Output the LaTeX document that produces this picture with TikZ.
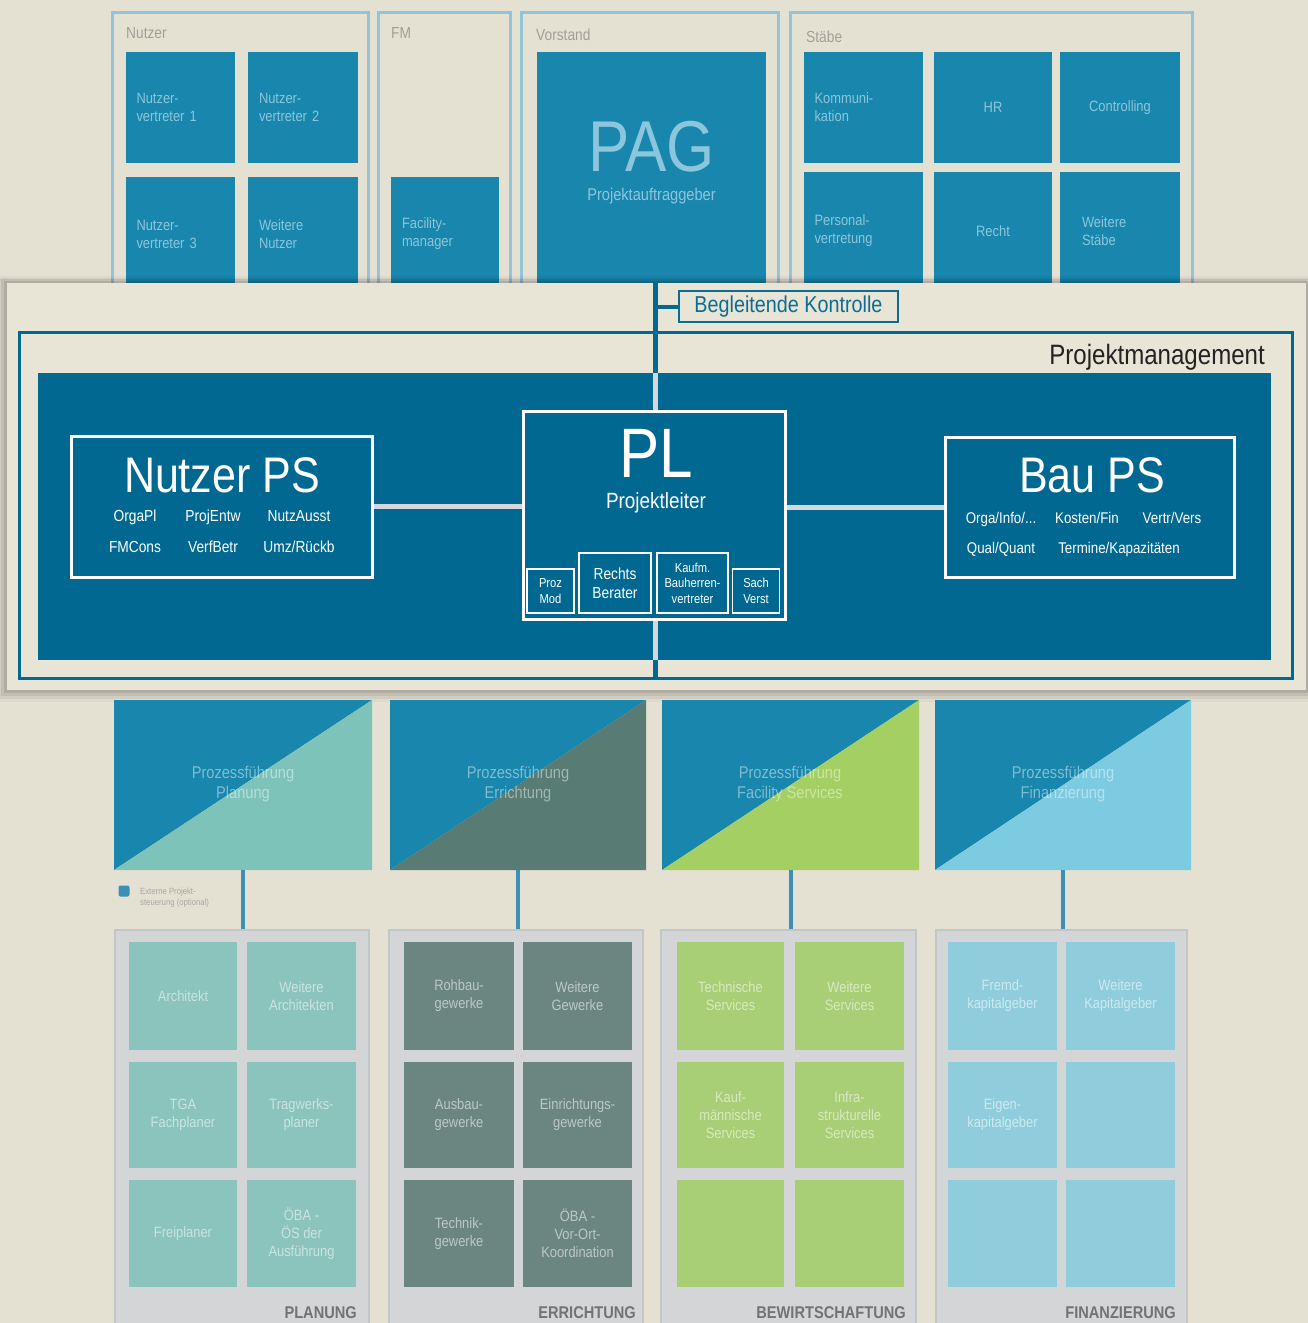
\documentclass[tikz,border=0pt]{standalone}
\usepackage{fontspec}
\setmainfont{Liberation Sans}[FakeStretch=0.86]
\usetikzlibrary{calc}
\definecolor{bg}{HTML}{E5E1D2}
\definecolor{bandbg}{HTML}{E9E5D6}
\definecolor{topblue}{HTML}{1886AD}
\definecolor{topfaint}{HTML}{8CC6DC}
\definecolor{frameblue}{HTML}{94C2D6}
\definecolor{darkblue}{HTML}{006891}
\definecolor{ctrlblue}{HTML}{0C6C93}
\definecolor{gline}{HTML}{D5D7DF}
\definecolor{hdrgray}{HTML}{A19F98}
\definecolor{pmtext}{HTML}{222222}
\definecolor{tealc}{HTML}{7DC3BA}
\definecolor{slatec}{HTML}{587B74}
\definecolor{greenc}{HTML}{A3CF63}
\definecolor{skyc}{HTML}{7DCBE0}
\definecolor{planc}{HTML}{8AC4BC}
\definecolor{errc}{HTML}{6B8680}
\definecolor{bewc}{HTML}{A8CF76}
\definecolor{finc}{HTML}{8FCDDD}
\definecolor{grpfill}{HTML}{D3D5D6}
\definecolor{grpdraw}{HTML}{C3C6C7}
\definecolor{conblue}{HTML}{3C90B6}
\newcommand\setfs[1]{\pgfmathsetmacro\mybls{#1*1.2}\fontsize{#1}{\mybls}\selectfont}
\begin{document}
\begin{tikzpicture}[x=1pt,y=-1pt,
  fs/.style={font=\setfs{#1}},
  tbox/.style={fill=topblue, inner sep=0pt, text=topfaint, fs=15, align=left},
  grpframe/.style={draw=frameblue, line width=3pt},
  hdr/.style={anchor=west, text=hdrgray, fs=16, inner sep=0pt},
  wbox/.style={draw=white, line width=3pt, inner sep=0pt},
  sbox/.style={draw=white, line width=1.6pt, inner sep=0pt, text=white, align=center},
  wtxt/.style={text=white, inner sep=0pt, anchor=base},
  dbline/.style={draw=darkblue, line width=5pt},
  glin/.style={draw=gline, line width=5pt},
  lbox/.style={inner sep=0pt, text=white!55!#1, fill=#1, align=center, fs=15},
  lgrp/.style={fill=grpfill, draw=grpdraw, line width=2pt, inner sep=0pt},
  lbl/.style={anchor=base east, text=black!55, inner sep=0pt, font=\bfseries\setfs{17}},
  sqtxt/.style={text=white, text opacity=0.45, fs=17, align=center, inner sep=0pt}
]
\useasboundingbox (0,0) rectangle (1308,1323);
\fill[bg] (0,0) rectangle (1308,1323);

% ---------- top groups ----------
\draw[grpframe] (112,12) rectangle (368,292);
\draw[grpframe] (378,12) rectangle (510,292);
\draw[grpframe] (521,12) rectangle (778,292);
\draw[grpframe] (790,12) rectangle (1192,292);
\node[hdr] (hNutzer) at (126,33) {Nutzer};
\node[hdr] (hFM) at (391,33) {FM};
\node[hdr] (hVor) at (536,35) {Vorstand};
\node[hdr] (hStab) at (806,37) {Stäbe};

\node[tbox, minimum width=109, minimum height=111, text width=88] (nv1) at (180.5,107.5) {Nutzer-\\vertreter 1};
\node[tbox, minimum width=110, minimum height=111, text width=88] (nv2) at (303,107.5) {Nutzer-\\vertreter 2};
\node[tbox, minimum width=109, minimum height=114, text width=88] (nv3) at (180.5,234) {Nutzer-\\vertreter 3};
\node[tbox, minimum width=110, minimum height=114, text width=88] (wn) at (303,234) {Weitere\\Nutzer};
\node[tbox, minimum width=108, minimum height=114, text width=86] (fac) at (445,234) {Facility-\\manager};
\node[tbox, minimum width=229, minimum height=240, align=center] (pag) at (651.5,172) {};
\node[text=topfaint, fs=72, inner sep=0pt, anchor=base] (pagt) at (651.5,171) {PAG};
\node[text=topfaint, fs=17, inner sep=0pt, anchor=base] (pags) at (651.5,200) {Projektauftraggeber};
\node[tbox, minimum width=119, minimum height=111, text width=98] (kom) at (863.5,107.5) {Kommuni-\\kation};
\node[tbox, minimum width=118, minimum height=111, align=center] (hr) at (993,107.5) {HR};
\node[tbox, minimum width=120, minimum height=111, align=center] (ctrl) at (1120,107.5) {Controlling};
\node[tbox, minimum width=119, minimum height=118, text width=98] (pers) at (863.5,231) {Personal-\\vertretung};
\node[tbox, minimum width=118, minimum height=118, align=center] (recht) at (993,231) {Recht};
\node[tbox, minimum width=120, minimum height=118, text width=76] (wst) at (1120,231) {Weitere\\Stäbe};

% ---------- band with shadow ----------
\foreach \d/\o in {12/0.03,9/0.05,6/0.07,3/0.09}
  \fill[black, opacity=\o] (7-\d,283-\d*0.6) rectangle (1306+\d,690+\d);
\fill[bandbg] (7,283) rectangle (1306,690);

\coordinate (ctop) at (655,283);
\coordinate (cbot) at (655,678);
\node[draw=ctrlblue, line width=2pt, minimum width=219, minimum height=31, inner sep=0pt,
      text=ctrlblue, fs=23] (bk) at (788.5,306.5) {Begleitende Kontrolle};
\draw[darkblue, line width=3pt] (19,332) rectangle (1292,678);
\node[anchor=base east, text=pmtext, fs=28, inner sep=0pt] (pmt) at (1265,364) {Projektmanagement};
\node[fill=darkblue, minimum width=1233, minimum height=287, inner sep=0pt] (inner) at (654.5,516.5) {};

\node[wbox, minimum width=301, minimum height=141] (nps) at (221.5,506.5) {};
\node[wbox, minimum width=262, minimum height=208] (pl) at (654,515) {};
\node[wbox, minimum width=289, minimum height=140] (bps) at (1089.5,507) {};

% connectors
\draw[dbline] (ctop) -- (inner.north -| ctop);
\draw[glin] (inner.north -| ctop) -- (pl.north -| ctop);
\draw[glin] (pl.south -| ctop) -- (inner.south -| ctop);
\draw[dbline] (inner.south -| ctop) -- (cbot);
\draw[darkblue, line width=4pt] (bk.west -| ctop) -- (bk.west);
\draw[glin] (nps.east) -- (nps.east -| pl.west);
\draw[glin] (pl.east |- bps.west) -- (bps.west);

% Nutzer PS
\node[wtxt, fs=50] (npst) at (222,492) {Nutzer PS};
\node[wtxt, fs=16] (n1) at (135,521) {OrgaPl};
\node[wtxt, fs=16] (n2) at (213,521) {ProjEntw};
\node[wtxt, fs=16] (n3) at (299,521) {NutzAusst};
\node[wtxt, fs=16] (n4) at (135,552) {FMCons};
\node[wtxt, fs=16] (n5) at (213,552) {VerfBetr};
\node[wtxt, fs=16] (n6) at (299,552) {Umz/Rückb};

% PL
\node[wtxt, fs=70] (plt) at (656,477) {PL};
\node[wtxt, fs=22] (pls) at (656,508) {Projektleiter};
\node[sbox, minimum width=47, minimum height=44, fs=13] (proz) at (550.5,591) {Proz\\Mod};
\node[sbox, minimum width=72, minimum height=60, fs=16] (rb) at (615,583) {Rechts\\Berater};
\node[sbox, minimum width=71, minimum height=60, fs=13] (kbv) at (692.5,583) {Kaufm.\\Bauherren-\\vertreter};
\node[sbox, minimum width=47, minimum height=44, fs=13] (sv) at (756,591) {Sach\\Verst};

% Bau PS
\node[wtxt, fs=50] (bpst) at (1092,492) {Bau PS};
\node[wtxt, fs=15.5] (b1) at (1001,523) {Orga/Info/...};
\node[wtxt, fs=15.5] (b2) at (1087,523) {Kosten/Fin};
\node[wtxt, fs=15.5] (b3) at (1172,523) {Vertr/Vers};
\node[wtxt, fs=15.5] (b4) at (1001,553) {Qual/Quant};
\node[wtxt, fs=15.5] (b5) at (1119,553) {Termine/Kapazitäten};

% ---------- bottom: process squares ----------
\fill[topblue] (114,700) -- (372,700) -- (114,870) -- cycle;
\fill[tealc] (372,700) -- (372,870) -- (114,870) -- cycle;
\node[minimum width=258, minimum height=170, inner sep=0pt] (sq1) at (243,785) {};
\node[sqtxt] (sq1t) at (243,784) {Prozessführung\\Planung};

\fill[topblue] (390,700) -- (646,700) -- (390,870) -- cycle;
\fill[slatec] (646,700) -- (646,870) -- (390,870) -- cycle;
\node[minimum width=256, minimum height=170, inner sep=0pt] (sq2) at (518,785) {};
\node[sqtxt] (sq2t) at (518,784) {Prozessführung\\Errichtung};

\fill[topblue] (662,700) -- (919,700) -- (662,870) -- cycle;
\fill[greenc] (919,700) -- (919,870) -- (662,870) -- cycle;
\node[minimum width=257, minimum height=170, inner sep=0pt] (sq3) at (790.5,785) {};
\node[sqtxt] (sq3t) at (790,784) {Prozessführung\\Facility Services};

\fill[topblue] (935,700) -- (1191,700) -- (935,870) -- cycle;
\fill[skyc] (1191,700) -- (1191,870) -- (935,870) -- cycle;
\node[minimum width=256, minimum height=170, inner sep=0pt] (sq4) at (1063,785) {};
\node[sqtxt] (sq4t) at (1063,784) {Prozessführung\\Finanzierung};

% legend
\node[fill=conblue, rounded corners=2pt, minimum size=11, inner sep=0pt] (lgsq) at (124,891) {};
\node[anchor=west, text=black!35, fs=9, align=left, inner sep=0pt] (lgt) at (140,898) {Externe Projekt-\\steuerung (optional)};

% ---------- bottom: groups ----------
\node[lgrp, minimum width=254, minimum height=410, anchor=north] (g1) at (242,929) {};
\node[lgrp, minimum width=254, minimum height=410, anchor=north] (g2) at (516,929) {};
\node[lgrp, minimum width=255, minimum height=410, anchor=north] (g3) at (788.5,929) {};
\node[lgrp, minimum width=251, minimum height=410, anchor=north] (g4) at (1061.5,929) {};

\draw[conblue, line width=4pt] (sq1.south) -- (g1.north -| sq1.south);
\draw[conblue, line width=4pt] (sq2.south) -- (g2.north -| sq2.south);
\draw[conblue, line width=4pt] (sq3.south) -- (g3.north -| sq3.south);
\draw[conblue, line width=4pt] (sq4.south) -- (g4.north -| sq4.south);

% Planung
\node[lbox=planc, minimum width=108, minimum height=108] (p11) at (183,996) {Architekt};
\node[lbox=planc, minimum width=109, minimum height=108] (p12) at (301.5,996) {Weitere\\Architekten};
\node[lbox=planc, minimum width=108, minimum height=106] (p21) at (183,1115) {TGA\\Fachplaner};
\node[lbox=planc, minimum width=109, minimum height=106] (p22) at (301.5,1115) {Tragwerks-\\planer};
\node[lbox=planc, minimum width=108, minimum height=107] (p31) at (183,1233.5) {Freiplaner};
\node[lbox=planc, minimum width=109, minimum height=107] (p32) at (301.5,1233.5) {ÖBA -\\ÖS der\\Ausführung};
\node[lbl] (lp) at (357,1318) {PLANUNG};

% Errichtung
\node[lbox=errc, minimum width=110, minimum height=108] (e11) at (459,996) {Rohbau-\\gewerke};
\node[lbox=errc, minimum width=109, minimum height=108] (e12) at (577.5,996) {Weitere\\Gewerke};
\node[lbox=errc, minimum width=110, minimum height=106] (e21) at (459,1115) {Ausbau-\\gewerke};
\node[lbox=errc, minimum width=109, minimum height=106] (e22) at (577.5,1115) {Einrichtungs-\\gewerke};
\node[lbox=errc, minimum width=110, minimum height=107] (e31) at (459,1233.5) {Technik-\\gewerke};
\node[lbox=errc, minimum width=109, minimum height=107] (e32) at (577.5,1233.5) {ÖBA -\\Vor-Ort-\\Koordination};
\node[lbl] (le) at (636,1318) {ERRICHTUNG};

% Bewirtschaftung
\node[lbox=bewc, minimum width=107, minimum height=108] (w11) at (730.5,996) {Technische\\Services};
\node[lbox=bewc, minimum width=109, minimum height=108] (w12) at (849.5,996) {Weitere\\Services};
\node[lbox=bewc, minimum width=107, minimum height=106] (w21) at (730.5,1115) {Kauf-\\männische\\Services};
\node[lbox=bewc, minimum width=109, minimum height=106] (w22) at (849.5,1115) {Infra-\\strukturelle\\Services};
\node[lbox=bewc, minimum width=107, minimum height=107] (w31) at (730.5,1233.5) {};
\node[lbox=bewc, minimum width=109, minimum height=107] (w32) at (849.5,1233.5) {};
\node[lbl] (lw) at (906,1318) {BEWIRTSCHAFTUNG};

% Finanzierung
\node[lbox=finc, minimum width=109, minimum height=108] (f11) at (1002.5,996) {Fremd-\\kapitalgeber};
\node[lbox=finc, minimum width=109, minimum height=108] (f12) at (1120.5,996) {Weitere\\Kapitalgeber};
\node[lbox=finc, minimum width=109, minimum height=106] (f21) at (1002.5,1115) {Eigen-\\kapitalgeber};
\node[lbox=finc, minimum width=109, minimum height=106] (f22) at (1120.5,1115) {};
\node[lbox=finc, minimum width=109, minimum height=107] (f31) at (1002.5,1233.5) {};
\node[lbox=finc, minimum width=109, minimum height=107] (f32) at (1120.5,1233.5) {};
\node[lbl] (lf) at (1176,1318) {FINANZIERUNG};
\end{tikzpicture}
\end{document}
